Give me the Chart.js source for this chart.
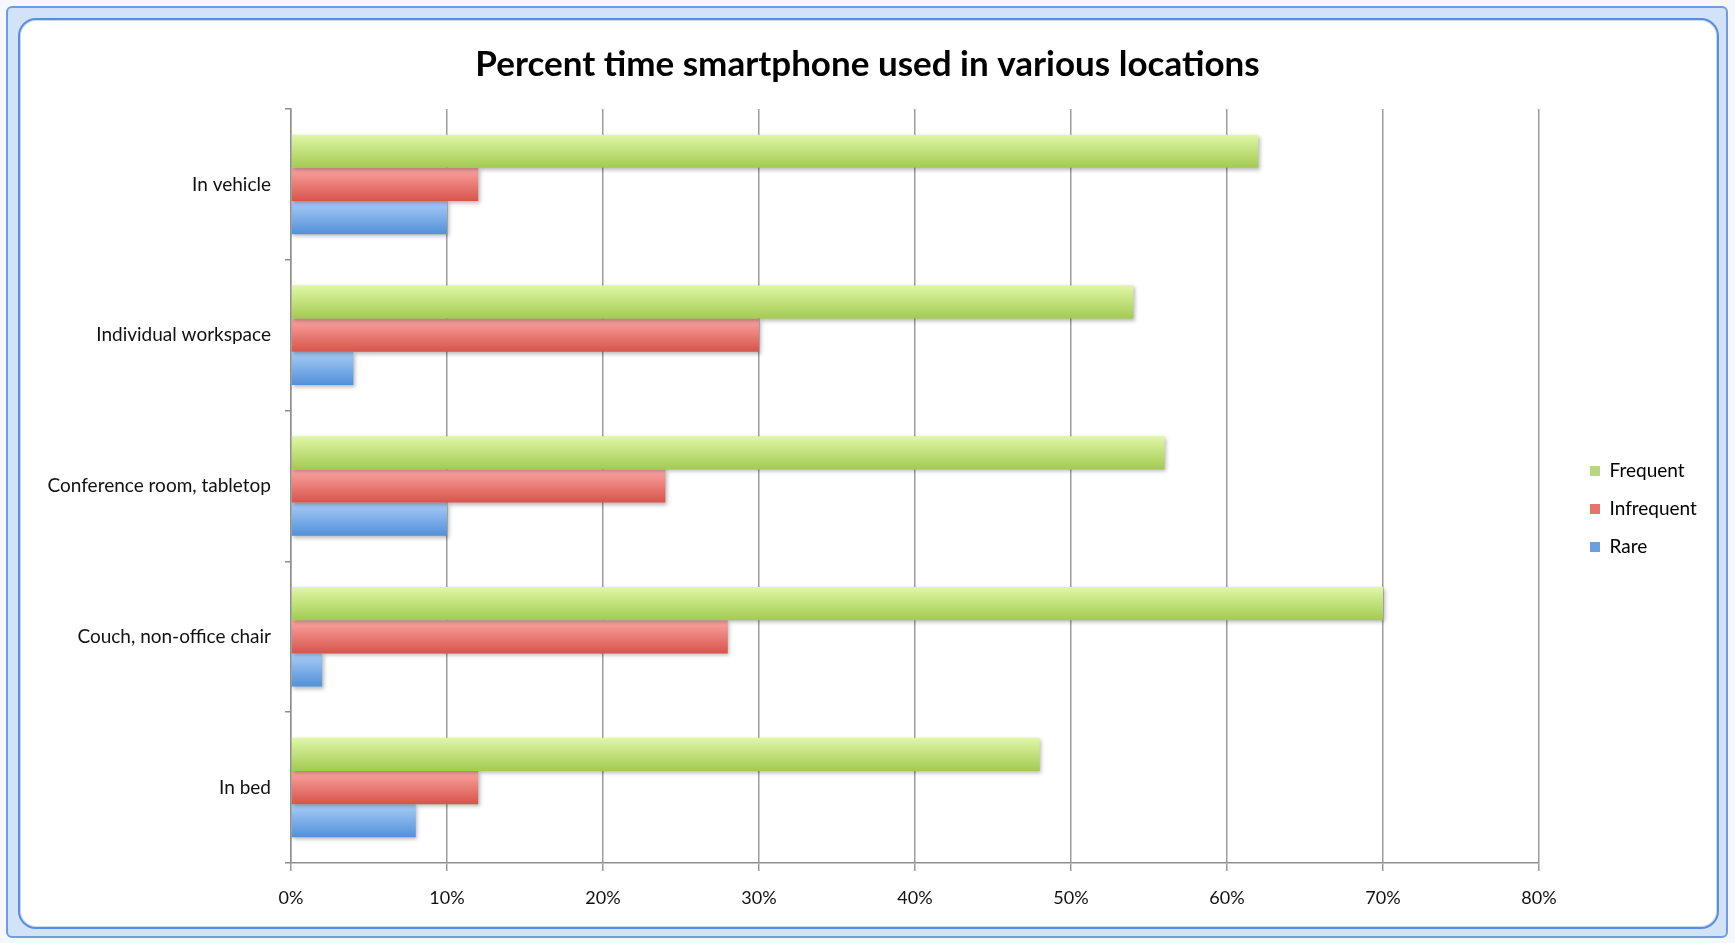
<!DOCTYPE html>
<html>
<head>
<meta charset="utf-8">
<script src="https://cdn.jsdelivr.net/npm/chart.js@4.4.1/dist/chart.umd.min.js"></script>
<style>
  html, body { margin:0; padding:0; width:1735px; height:943px; background:#f4f8fd; overflow:hidden; }
  .outer { position:absolute; left:6px; top:6px; width:1718px; height:928px; border:2px solid #6f9be2; border-radius:6px; background:#d2e3f7; }
  .inner { position:absolute; left:18px; top:18px; width:1697px; height:907px; border:2px solid #5a8ce0; border-radius:18px; background:#ffffff; box-shadow: inset 0 0 0 1px #c9dbf3; }
  #wrap { position:absolute; left:0; top:0; width:1735px; height:943px; }
</style>
</head>
<body>
<div class="outer"></div>
<div class="inner"></div>
<div id="wrap"><canvas id="c" width="1735" height="943"></canvas></div>
<script>
const titleText = 'Percent time smartphone used in various locations';
const categories = ['In vehicle', 'Individual workspace', 'Conference room, tabletop', 'Couch, non-office chair', 'In bed'];
const seriesNames = ['Frequent', 'Infrequent', 'Rare'];
const frequent = [62, 54, 56, 70, 48];
const infrequent = [12, 30, 24, 28, 12];
const rare = [10, 4, 10, 2, 8];
const xTicksMax = 80;
const xTickStep = 10;

const flatColors = ['#b7d97a', '#e8736b', '#6aa0e2'];
const gradStops = [
  ['#e0f7a6', '#a3ca52'],
  ['#fba6a2', '#d7544b'],
  ['#a9cdf8', '#5290d8']
];

const FONT = 'Lato, "Open Sans", sans-serif';
const legendFontSize = 19;
const legendBox = 10;
const legendPad = 19;
const plotRight = 1539;

const gradientPlugin = {
  id: 'barGradient',
  beforeDatasetsDraw(chart) {
    const ctx = chart.ctx;
    chart.data.datasets.forEach((ds, di) => {
      const meta = chart.getDatasetMeta(di);
      meta.data.forEach(bar => {
        const p = bar.getProps(['y', 'height'], true);
        const top = p.y - p.height / 2, bot = p.y + p.height / 2;
        const g = ctx.createLinearGradient(0, top, 0, bot);
        g.addColorStop(0, gradStops[di][0]);
        g.addColorStop(1, gradStops[di][1]);
        if (bar.options) bar.options.backgroundColor = g;
      });
    });
    ctx.save();
    ctx.shadowColor = 'rgba(0,0,0,0.28)';
    ctx.shadowBlur = 4;
    ctx.shadowOffsetX = 1.5;
    ctx.shadowOffsetY = 2;
  },
  afterDatasetsDraw(chart) {
    chart.ctx.restore();
  }
};

const legendLayout = {
  id: 'legendLayout',
  beforeLayout(chart) {
    const lg = chart.legend;
    if (!lg || lg._patched) return;
    const origFit = lg.fit;
    lg.fit = function () {
      origFit.call(this);
      this.width = chart.width - plotRight;
    };
    lg._patched = true;
  },
  afterLayout(chart) {
    const lg = chart.legend;
    if (!lg) return;
    const dx = 1590 - legendPad - lg.left;
    lg.left += dx; lg.right += dx;
    const colH = (lg.columnSizes && lg.columnSizes[0]) ? lg.columnSizes[0].height : 3 * (legendFontSize + legendPad);
    const curY = (lg.top + legendPad + lg.bottom - colH) / 2;
    const dy = (471 - legendFontSize / 2) - curY;
    lg.top += dy; lg.bottom += dy;
  }
};

new Chart(document.getElementById('c'), {
  type: 'bar',
  data: {
    labels: categories,
    datasets: [
      { label: seriesNames[0], data: frequent, backgroundColor: () => flatColors[0] },
      { label: seriesNames[1], data: infrequent, backgroundColor: () => flatColors[1] },
      { label: seriesNames[2], data: rare, backgroundColor: () => flatColors[2] }
    ]
  },
  options: {
    indexAxis: 'y',
    responsive: false,
    animation: false,
    devicePixelRatio: 1,
    categoryPercentage: 0.66,
    barPercentage: 1.0,
    layout: { padding: 0 },
    datasets: { bar: { borderWidth: 0 } },
    scales: {
      x: {
        min: 0, max: xTicksMax,
        ticks: {
          stepSize: xTickStep,
          callback: v => v + '%',
          color: '#111',
          font: { family: FONT, size: 18 },
          padding: 16
        },
        grid: { color: '#9c9c9c', lineWidth: 1.5, tickLength: 8, drawTicks: true },
        border: { color: '#8f8f8f', width: 1.5 },
        afterFit(scale) { scale.height = 80; }
      },
      y: {
        ticks: {
          color: '#111',
          font: { family: FONT, size: 19 },
          padding: 14
        },
        grid: { offset: true, drawOnChartArea: false, drawTicks: true, tickLength: 6, color: '#8f8f8f', lineWidth: 1.5 },
        border: { color: '#8f8f8f', width: 1.5 },
        afterFit(scale) { scale.width = 291; }
      }
    },
    plugins: {
      title: {
        display: true,
        text: titleText,
        color: '#000',
        font: { family: FONT, size: 35, weight: 'bold' },
        padding: { top: 44, bottom: 23 }
      },
      legend: {
        position: 'right',
        labels: {
          boxWidth: legendBox,
          boxHeight: legendBox,
          padding: legendPad,
          color: '#111',
          font: { family: FONT, size: legendFontSize },
          generateLabels(chart) {
            return chart.data.datasets.map((ds, i) => ({
              text: ds.label, fillStyle: flatColors[i], strokeStyle: flatColors[i],
              lineWidth: 0, hidden: false, datasetIndex: i
            }));
          }
        }
      },
      tooltip: { enabled: false }
    }
  },
  plugins: [gradientPlugin, legendLayout]
});
</script>
</body>
</html>
